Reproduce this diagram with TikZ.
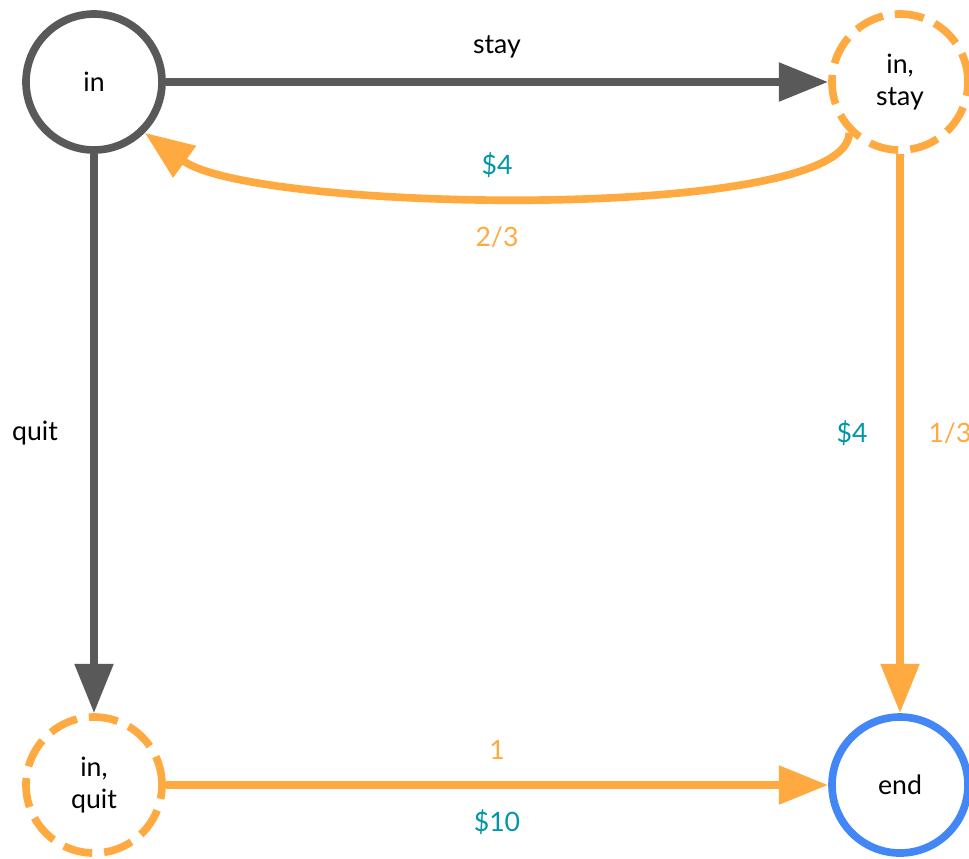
\documentclass[tikz,border=0pt]{standalone}
\usepackage{fontspec}
\setmainfont{Lato}
\usetikzlibrary{arrows.meta}
\definecolor{edgegrey}{HTML}{595959}
\definecolor{choiceorange}{HTML}{FFAA40}
\definecolor{rewardteal}{HTML}{0097A7}
\definecolor{endblue}{HTML}{4287F5}

\begin{document}
\begin{tikzpicture}[x=0.75pt,y=-0.75pt,
  state/.style={circle, minimum size=102pt, inner sep=0pt, line width=5.75pt,
    font=\fontsize{20}{24}\selectfont, align=center, fill=white},
  decision/.style={state, draw=edgegrey},
  chance/.style={state, draw=choiceorange, dash pattern=on 22pt off 9pt},
  terminal/.style={state, draw=endblue},
  flow/.style={line width=5.75pt, -{Triangle[length=37pt,width=28pt]}},
  lbl/.style={font=\fontsize{20}{24}\selectfont, inner sep=0pt},
]
\useasboundingbox (0,0) rectangle (969,858);

% states
\node[decision] (in)     at (94,82)  {in};
\node[chance]   (instay) at (900,82) {in,\\stay};
\node[chance]   (inquit) at (94,785) {in,\\quit};
\node[terminal] (end)    at (900,785) {end};

% transitions
\draw[flow, edgegrey] (in) -- (instay);
\draw[flow, edgegrey] (in) -- (inquit);
\draw[flow, choiceorange] (instay.225) .. controls +(0,90) and +(110,80) .. (in.-45);
\draw[flow, choiceorange] (instay) -- (end);
\draw[flow, choiceorange] (inquit) -- (end);

% labels
\node[lbl] (lstay) at (497,47) {stay};
\node[lbl, text=rewardteal] (lback) at (497,165) {\$4};
\node[lbl, text=choiceorange] (pback) at (497,237) {2/3};
\node[lbl] (lquit) at (35,433) {quit};
\node[lbl, text=rewardteal] (lfin) at (852,433) {\$4};
\node[lbl, text=choiceorange] (pfin) at (950,433) {1/3};
\node[lbl, text=choiceorange] (pquit) at (497,750) {1};
\node[lbl, text=rewardteal] (lquitr) at (497,822) {\$10};
\end{tikzpicture}
\end{document}
